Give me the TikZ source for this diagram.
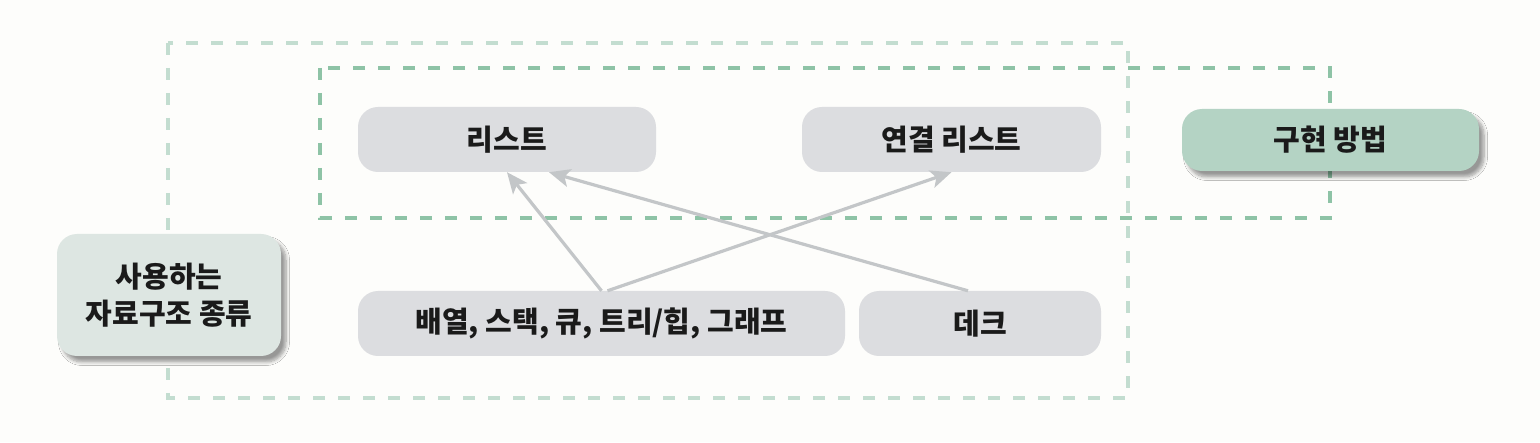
\documentclass[tikz,border=0pt]{standalone}
\usepackage{fontspec}
\newfontfamily\kr{Noto Sans CJK KR}
\usetikzlibrary{arrows.meta,shadows.blur,calc}
\definecolor{bg}{HTML}{FDFDFB}
\definecolor{boxgray}{HTML}{DCDDE0}
\definecolor{boxgreen}{HTML}{B4D3C4}
\definecolor{boxpale}{HTML}{DDE6E2}
\definecolor{dashlight}{HTML}{C3DDD0}
\definecolor{dashdark}{HTML}{8EC3A6}
\definecolor{arrowgray}{HTML}{C3C6C8}
\definecolor{txt}{HTML}{1A1A1A}
\tikzset{
  box/.style={rectangle, rounded corners=20pt, fill=boxgray, text=txt,
    font=\kr\bfseries\fontsize{29}{37}\selectfont, align=center, inner sep=0pt},
  shadowed/.style={blur shadow={shadow xshift=5pt, shadow yshift=-6pt,
    shadow blur steps=8, shadow blur radius=3.5pt, shadow opacity=40}},
  outerdash/.style={draw=dashlight, line width=3.5pt, dash pattern=on 12pt off 13pt},
  innerdash/.style={draw=dashdark, line width=3.5pt, dash pattern=on 12pt off 13pt},
  conn/.style={draw=arrowgray, line width=3.2pt,
    -{Stealth[length=21pt, width=18pt, inset=5pt]}}
}
\begin{document}
\begin{tikzpicture}[x=1pt,y=1pt]
\fill[bg] (0,0) rectangle (1540,442);
\useasboundingbox (0,0) rectangle (1540,442);
% dashed frames
\draw[outerdash] (168,399) rectangle (1128,44);
\draw[innerdash] (320,374) rectangle (1330,224);
% nodes
\node[box, minimum width=298pt, minimum height=65pt] (l) at (507,302.5) {리스트};
\node[box, minimum width=299pt, minimum height=65pt] (ll) at (951.5,302.5) {연결 리스트};
\node[box, fill=boxgreen, shadowed, minimum width=297pt, minimum height=62pt] (impl) at (1330.5,302) {구현 방법};
\node[box, fill=boxpale, shadowed, minimum width=224pt, minimum height=122pt] (kinds) at (169,147) {사용하는\\자료구조 종류};
\node[box, minimum width=487pt, minimum height=65pt] (b) at (601.5,118.5) {배열, 스택, 큐, 트리/힙, 그래프};
\node[box, minimum width=242pt, minimum height=65pt] (d) at (980,118.5) {데크};
% connectors
\draw[conn] (b.north) -- (l.south);
\draw[conn] ($(b.north)+(6,0)$) -- (ll.south);
\draw[conn] ($(d.north)+(-12,0)$) -- ($(l.south)+(42,0)$);
\end{tikzpicture}
\end{document}
